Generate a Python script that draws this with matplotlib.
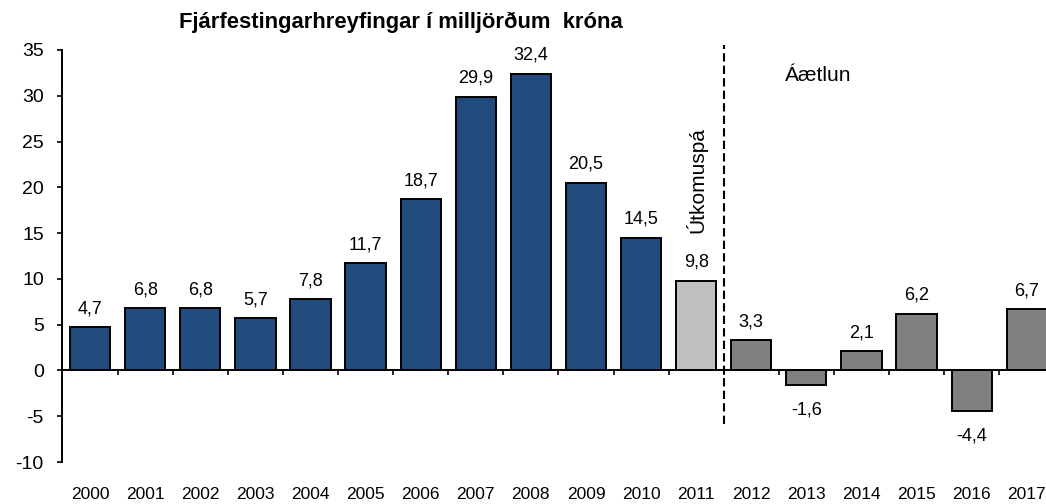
import matplotlib
matplotlib.use("Agg")
import matplotlib.pyplot as plt
import matplotlib.transforms as mtransforms
import numpy as np

plt.rcParams['font.family'] = ['Liberation Sans', 'DejaVu Sans']
plt.rcParams['axes.unicode_minus'] = False

years = ['2000', '2001', '2002', '2003', '2004', '2005', '2006', '2007', '2008',
         '2009', '2010', '2011', '2012', '2013', '2014', '2015', '2016', '2017']
values = [4.7, 6.8, 6.8, 5.7, 7.8, 11.7, 18.7, 29.9, 32.4,
          20.5, 14.5, 9.8, 3.3, -1.6, 2.1, 6.2, -4.4, 6.7]
kind = ['actual'] * 11 + ['estimate'] + ['plan'] * 6

colours = {'actual': '#214B7D', 'estimate': '#C0C0C0', 'plan': '#808080'}

title = 'Fjárfestingarhreyfingar í milljörðum  króna'


def fmt(v):
    return f'{v:.1f}'.replace('.', ',')


fig = plt.figure(figsize=(10.46, 5.04), dpi=100)
ax = fig.add_axes([0.0593, 0.0833, 0.9407, 0.8175])

x = np.arange(len(years))
ax.bar(x, values, width=0.73, color=[colours[k] for k in kind],
       edgecolor='black', linewidth=1.4, zorder=2)

for xi, v in zip(x, values):
    if v >= 0:
        ax.annotate(fmt(v), (xi, v), xytext=(0, 10), textcoords='offset points',
                    ha='center', va='baseline', fontsize=13)
    else:
        ax.annotate(fmt(v), (xi, v), xytext=(0, -12), textcoords='offset points',
                    ha='center', va='top', fontsize=13)

ax.set_xlim(-0.51, 17.35)
ax.set_ylim(-10, 35)
ax.set_yticks(np.arange(-10, 36, 5))
ax.tick_params(axis='y', labelsize=14, length=3.6, width=1.2, direction='out', pad=9.5)

# x axis sits on zero, ticks between categories, labels at the bottom
ax.spines['bottom'].set_position(('data', 0))
ax.spines['top'].set_visible(False)
ax.spines['right'].set_visible(False)
ax.spines['left'].set_linewidth(1.4)
ax.spines['bottom'].set_linewidth(1.4)
ax.set_xticks(np.arange(0.5, 17.5, 1))
ax.set_xticklabels([])
ax.tick_params(axis='x', length=3.6, width=1.2, direction='out')

trans = mtransforms.blended_transform_factory(ax.transData, ax.transAxes)
for xi, yr in zip(x, years):
    ax.text(xi, -0.08, yr, transform=trans, ha='center', va='center',
            fontsize=12.5, clip_on=False)

ax.plot([11.5, 11.5], [-5.9, 35.5], color='black', linestyle=(0, (4, 2)),
        linewidth=1.5, clip_on=False, zorder=3)

ax.text(11.0, 15.0, 'Útkomuspá', rotation=90, ha='center', va='bottom',
        fontsize=15)
ax.text(12.61, 32.2, 'Áætlun', ha='left', va='center', fontsize=15)

fig.text(0.383, 0.956, title, ha='center', va='center', fontsize=15.8,
         fontweight='bold')

fig.savefig('out.png', dpi=100)
